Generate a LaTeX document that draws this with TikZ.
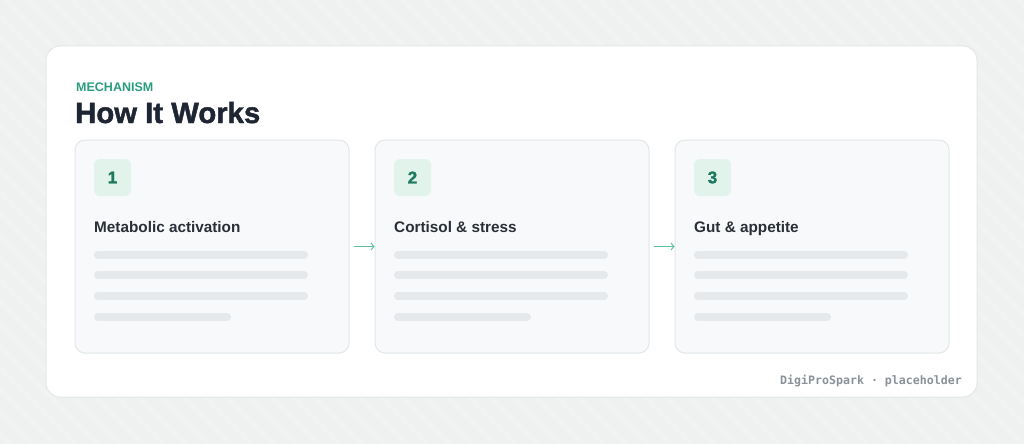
\documentclass[tikz,border=0pt]{standalone}
\usepackage{fontspec}
\setmainfont{Liberation Sans}
\newfontfamily\heavyfont[BoldFeatures={FakeBold=1.6}]{Liberation Sans}
\newfontfamily\monofnt{DejaVu Sans Mono}
\usetikzlibrary{arrows.meta}
\definecolor{bgc}{HTML}{EEF1F0}
\definecolor{cardborder}{HTML}{E3E7EA}
\definecolor{cardfill}{HTML}{F7F9FA}
\definecolor{teal}{HTML}{2A9D7F}
\definecolor{tealdark}{HTML}{1E7A5E}
\definecolor{badgefill}{HTML}{E2F3EC}
\definecolor{navy}{HTML}{1E2533}
\definecolor{titlec}{HTML}{2A2F36}
\definecolor{linec}{HTML}{E6E9EC}
\definecolor{footc}{HTML}{8B9198}
\definecolor{arrowc}{HTML}{5CBF9F}
\tikzset{
  card/.style={draw=cardborder, line width=1pt, fill=cardfill, rounded corners=10pt,
    minimum width=274pt, minimum height=213pt, inner sep=0pt},
  badge/.style={fill=badgefill, rounded corners=6pt, minimum width=37pt, minimum height=37pt,
    inner sep=0pt, text=tealdark, font=\heavyfont\bfseries\fontsize{17}{18}\selectfont},
  stitle/.style={anchor=base west, inner sep=0pt, text=titlec, font=\bfseries\fontsize{15.3}{18}\selectfont},
  pline/.style={line width=8pt, line cap=round, draw=linec},
  flow/.style={draw=arrowc, line width=0.9pt, -{Straight Barb[length=3pt,width=7pt]}, shorten <=4pt}
}
\begin{document}
\begin{tikzpicture}[x=1pt,y=-1pt]
\useasboundingbox (0,0) rectangle (1024,444);
\fill[bgc] (0,0) rectangle (1024,444);
\begin{scope}
\clip (0,0) rectangle (1024,444);
\foreach \i in {-500,-478,...,1100} {
  \draw[white, opacity=0.2, line width=5pt] (\i,0) -- (\i+444,444);
}
\end{scope}
% outer card
\node[draw=cardborder, line width=1pt, fill=white, rounded corners=14pt,
  minimum width=931pt, minimum height=351pt, inner sep=0pt] (panel) at (511.5,221.5) {};
\node[anchor=base west, inner sep=0pt, text=teal, font=\bfseries\fontsize{12.5}{14}\selectfont] (kicker) at (76,91) {MECHANISM};
\node[anchor=base west, inner sep=0pt, text=navy, font=\heavyfont\bfseries\fontsize{29.3}{32}\selectfont] (title) at (75,123) {How It Works};
% cards
\foreach \n/\cx/\txt in {1/212/Metabolic activation, 2/512/Cortisol \& stress, 3/812/Gut \& appetite} {
  \node[card] (c\n) at (\cx,246.5) {};
  \node[badge] (b\n) at (\cx-99.5,177.5) {\n};
  \node[stitle] (t\n) at (\cx-118,232) {\txt};
  \draw[pline] (\cx-114,255) -- (\cx+92,255);
  \draw[pline] (\cx-114,275) -- (\cx+92,275);
  \draw[pline] (\cx-114,296) -- (\cx+92,296);
  \draw[pline] (\cx-114,317) -- (\cx+15,317);
}
\draw[flow] (c1.east) -- (c2.west);
\draw[flow] (c2.east) -- (c3.west);
\node[anchor=base east, inner sep=0pt, text=footc, font=\monofnt\bfseries\fontsize{11.6}{13}\selectfont] (foot) at (962,384) {DigiProSpark · placeholder};
\end{tikzpicture}
\end{document}
